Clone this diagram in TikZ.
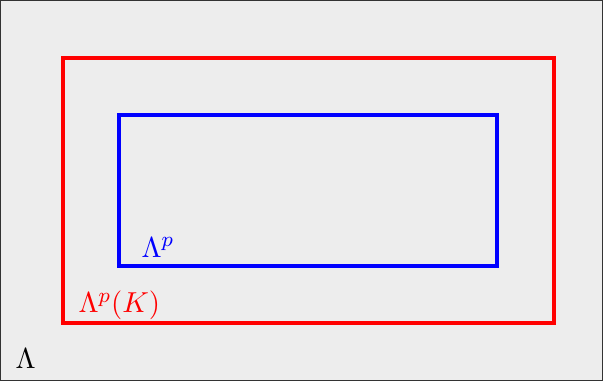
\documentclass[11pt,tikz,border=0pt]{standalone}
\usepackage{amsmath,amssymb}
\usepackage{xcolor}
\definecolor{bggray}{RGB}{237,237,237}
\usepackage{tikz}
\usetikzlibrary{positioning}

\begin{document}
\begin{tikzpicture}[
    region/.style={line width=1.4pt},
    lbl/.style={anchor=base west, inner sep=0pt}
]
\useasboundingbox (0,0) rectangle (8.04,5.08);
% whole lattice
\draw[fill=bggray, draw=black!80, line width=0.3pt] (0.01,0.01) rectangle (8.03,5.07);
% restricted regions
\draw[region, red]  (0.84,0.773) rectangle (7.387,4.307);
\draw[region, blue] (1.587,1.533) rectangle (6.627,3.547);

\node[lbl]       (full)  at (0.20,0.173) {$\Lambda$};
\node[lbl, red]  (outer) at (1.04,0.907) {$\Lambda^p(K)$};
\node[lbl, blue] (inner) at (1.88,1.653) {$\Lambda^p$};
\end{tikzpicture}
\end{document}
